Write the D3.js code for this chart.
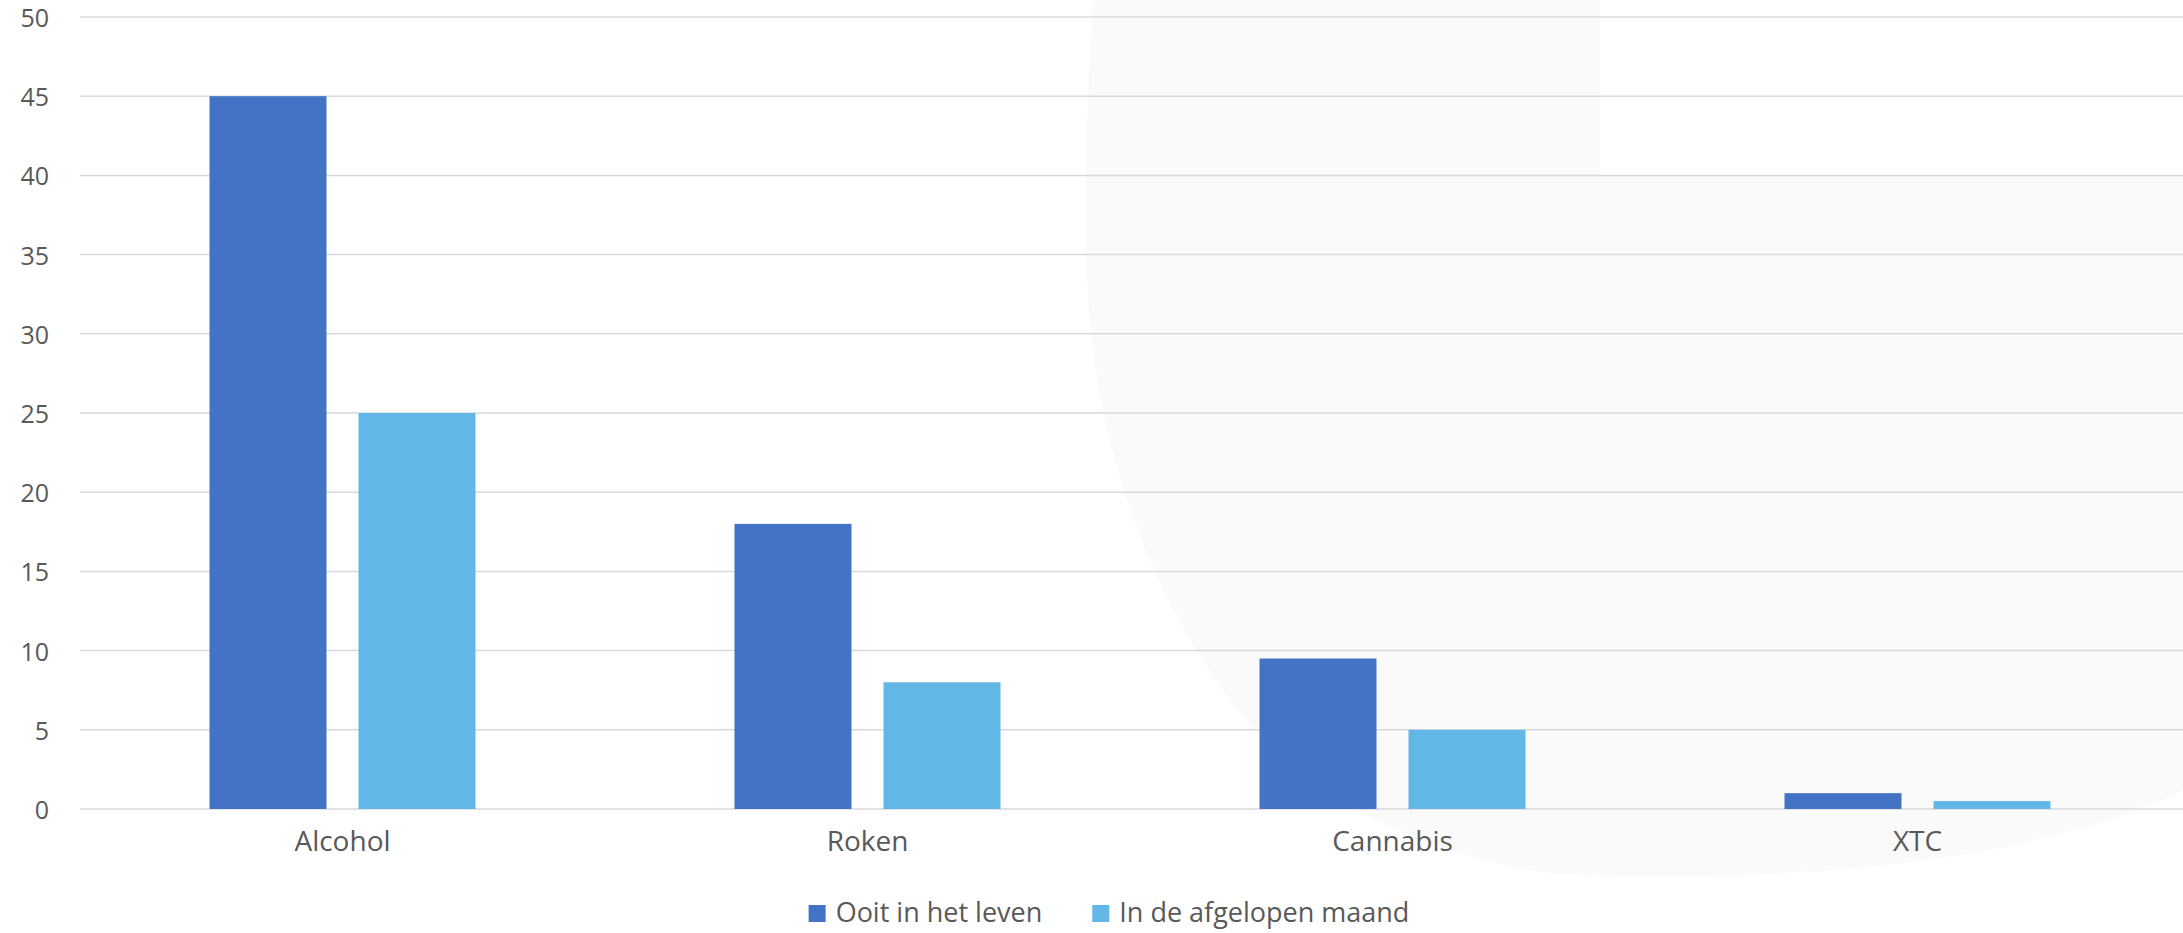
<!DOCTYPE html>
<html><head><meta charset="utf-8">
<script src="https://cdn.jsdelivr.net/npm/d3@7"></script>
<style>html,body{margin:0;padding:0;background:#fff;overflow:hidden}svg{display:block}</style>
</head><body>
<svg id="chart" width="2183" height="933"></svg>
<script>
const categories = ["Alcohol", "Roken", "Cannabis", "XTC"];
const seriesNames = ["Ooit in het leven", "In de afgelopen maand"];
const ooitInHetLeven = [45, 18, 9.5, 1];
const afgelopenMaand = [25, 8, 5, 0.5];
const yTicks = [0, 5, 10, 15, 20, 25, 30, 35, 40, 45, 50];
const colors = ["#4472C4", "#63B7E6"];

(function () {
const W = 2183, H = 933;
const plotLeft = 80, plotRight = 2180, plotTop = 17, plotBottom = 809;
const font = "'Open Sans', 'Liberation Sans', sans-serif";
const textColor = "#595959";

const svg = d3.select("#chart");

// faint decorative background shape
svg.append("path")
  .attr("d", "M1093,0 L1600,0 L1600,175 L2183,175 L2183,790 C2000,880 1700,880 1560,874 C1420,860 1300,790 1230,700 C1150,590 1100,460 1088,300 C1082,180 1090,60 1093,0 Z")
  .attr("fill", "#fafafa");

const x0 = d3.scaleBand().domain(categories).range([plotLeft, plotRight]).paddingInner(0).paddingOuter(0);
const y = d3.scaleLinear().domain([0, 50]).range([plotBottom, plotTop]);

const barW = 117, gap = 32;
const x1 = d3.scaleOrdinal().domain([0, 1]).range([-(gap / 2 + barW), gap / 2]);

// gridlines
svg.append("g").selectAll("line").data(yTicks).join("line")
  .attr("x1", plotLeft).attr("x2", W)
  .attr("y1", d => y(d)).attr("y2", d => y(d))
  .attr("stroke", "#d9d9d9").attr("stroke-width", 1.5);

// y tick labels via axis
const yAxis = svg.append("g").attr("transform", `translate(${plotLeft},0)`)
  .call(d3.axisLeft(y).tickValues(yTicks).tickSize(0).tickPadding(31).tickFormat(d3.format("d")));
yAxis.select(".domain").remove();
yAxis.selectAll("text").attr("font-family", font).attr("font-size", 25).attr("fill", textColor).attr("dy", "0.38em");

// bars
const series = [ooitInHetLeven, afgelopenMaand];
series.forEach((vals, si) => {
  svg.append("g").selectAll("rect").data(vals).join("rect")
    .attr("x", (d, i) => x0(categories[i]) + x0.bandwidth() / 2 + x1(si))
    .attr("width", barW)
    .attr("y", d => y(d))
    .attr("height", d => y(0) - y(d))
    .attr("fill", colors[si]);
});

// category labels via axis
const xAxis = svg.append("g").attr("transform", `translate(0,${plotBottom})`)
  .call(d3.axisBottom(x0).tickSize(0).tickPadding(22));
xAxis.select(".domain").remove();
xAxis.selectAll("text").attr("font-family", font).attr("font-size", 28).attr("fill", textColor);

// legend
const legend = svg.append("g");
const items = legend.selectAll("g").data(seriesNames).join("g");
items.append("rect").attr("width", 17).attr("height", 17).attr("y", 905).attr("fill", (d, i) => colors[i]);
items.append("text").text(d => d).attr("x", 27).attr("y", 922)
  .attr("font-family", font).attr("font-size", 27).attr("fill", textColor);
let cx = 0; const pos = [];
items.each(function (d, i) {
  const w = 27 + d3.select(this).select("text").node().getComputedTextLength();
  pos.push(cx); cx += w + 50;
});
const total = cx - 50;
const startX = 1109 - total / 2;
items.attr("transform", (d, i) => `translate(${startX + pos[i]},0)`);
})();
</script>
</body></html>
